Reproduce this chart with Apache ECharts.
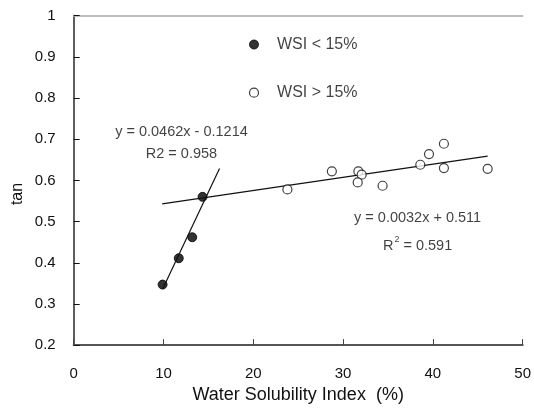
<!DOCTYPE html>
<html><head><meta charset="utf-8">
<script src="https://cdn.jsdelivr.net/npm/echarts@6/dist/echarts.min.js"></script>
<style>html,body{margin:0;padding:0;background:#fff}#c{width:534px;height:409px}</style>
</head><body><div id="c"></div>
<script>
// WSI < 15% (filled)
var lowWSI = [9.9, 11.7, 13.2, 14.35];
var lowTan = [0.347, 0.411, 0.462, 0.560];
// WSI > 15% (open)
var highWSI = [23.8, 28.75, 31.7, 32.07, 31.63, 34.4, 38.6, 39.57, 41.23, 41.23, 46.1];
var highTan = [0.578, 0.622, 0.622, 0.614, 0.595, 0.587, 0.638, 0.664, 0.689, 0.630, 0.628];
// trend line endpoints
var trendLowX = [9.92, 16.24];
var trendLowY = [0.337, 0.629];
var trendHighX = [9.85, 46.1];
var trendHighY = [0.543, 0.659];
// legend marker positions (in data space as drawn in the figure)
var legendX = [20.08, 20.08];
var legendY = [0.930, 0.813];
var legendText = ['WSI < 15%', 'WSI > 15%'];
var xTicks = [0, 10, 20, 30, 40, 50];
var yTicks = [0.2, 0.3, 0.4, 0.5, 0.6, 0.7, 0.8, 0.9, 1];

function zip(a, b) { return a.map(function (v, i) { return [v, b[i]]; }); }

var chart = echarts.init(document.getElementById('c'));
var font = 'Liberation Sans, Arial, sans-serif';
var ink = '#111';
chart.setOption({
  animation: false,
  grid: { left: 73.7, right: 9.7, top: 15.7, bottom: 58, containLabel: false },
  xAxis: [{
    type: 'value', min: 0, max: 50, interval: 10,
    axisLine: { show: true, onZero: false, lineStyle: { color: '#555', width: 2 } },
    axisTick: { show: true, inside: true, length: 6, lineStyle: { color: '#444', width: 1 } },
    axisLabel: { margin: 21, fontSize: 15, color: ink, fontFamily: font },
    splitLine: { show: false },
    name: 'Water Solubility Index  (%)', nameLocation: 'middle', nameGap: 37,
    nameTextStyle: { fontSize: 18, color: ink, fontFamily: font }
  }, {
    type: 'value', position: 'top', min: 0, max: 50,
    axisLine: { show: true, lineStyle: { color: '#aaa', width: 1.5 } },
    axisTick: { show: false }, axisLabel: { show: false }, splitLine: { show: false }
  }],
  yAxis: [{
    type: 'value', min: 0.2, max: 1, interval: 0.1,
    axisLine: { show: true, onZero: false, lineStyle: { color: '#111', width: 2 } },
    axisTick: { show: true, inside: true, length: 6, lineStyle: { color: '#111', width: 1 } },
    axisLabel: { margin: 18, fontSize: 15, color: ink, fontFamily: font,
      formatter: function (v) { return String(Math.round(v * 10) / 10); } },
    splitLine: { show: false }
  }, {
    type: 'value', position: 'right', min: 0.2, max: 1,
    axisLine: { show: true, lineStyle: { color: '#777', width: 1.5 } },
    axisTick: { show: false }, axisLabel: { show: false }, splitLine: { show: false }
  }],
  graphic: [{
    type: 'text', x: 18, y: 194, rotation: Math.PI / 2,
    style: { text: 'tan', fontSize: 16, fill: ink, fontFamily: font, align: 'center', verticalAlign: 'middle' }
  }],
  series: [
    { type: 'line', data: zip(trendLowX, trendLowY), symbol: 'none', silent: true,
      lineStyle: { color: '#111', width: 1.2 } },
    { type: 'line', data: zip(trendHighX, trendHighY), symbol: 'none', silent: true,
      lineStyle: { color: '#111', width: 1.2 } },
    { type: 'scatter', data: zip(lowWSI, lowTan), symbol: 'circle', symbolSize: 9,
      itemStyle: { color: '#000', borderColor: '#000', borderWidth: 1 } },
    { type: 'scatter', data: zip(highWSI, highTan), symbol: 'circle', symbolSize: 9,
      itemStyle: { color: '#fff', borderColor: '#111', borderWidth: 1.2 }, z: 3 },
    { type: 'scatter', symbol: 'circle', symbolSize: 9,
      data: [
        { value: [legendX[0], legendY[0]], itemStyle: { color: '#000', borderColor: '#000', borderWidth: 1 } },
        { value: [legendX[1], legendY[1]], itemStyle: { color: '#fff', borderColor: '#111', borderWidth: 1.2 } }
      ],
      label: { show: true, position: 'right', distance: 18, fontSize: 16, color: ink, fontFamily: font,
        formatter: function (p) { return legendText[p.dataIndex]; } }
    },
    { type: 'scatter', symbolSize: 0, silent: true,
      data: [
        { value: [12.0, 0.690], label: { formatter: '{n|y = 0.0462x - 0.1214}\n{m|R2 = 0.958}' } },
        { value: [38.3, 0.474], label: { formatter: '{p|y = 0.0032x + 0.511}\n{p|R}{s|2}{p| = 0.591}' } }
      ],
      label: { show: true, position: 'inside', align: 'center', verticalAlign: 'middle',
        fontSize: 14.5, color: ink, fontFamily: font,
        rich: {
          n: { fontSize: 14.5, lineHeight: 22, color: ink, fontFamily: font },
          m: { fontSize: 14.5, lineHeight: 22, color: ink, fontFamily: font },
          p: { fontSize: 14.5, lineHeight: 28, color: ink, fontFamily: font },
          s: { fontSize: 9, lineHeight: 12, color: ink, fontFamily: font, verticalAlign: 'top', padding: [3, 0, 0, 1] }
        }
      }
    }
  ]
});
</script></body></html>
